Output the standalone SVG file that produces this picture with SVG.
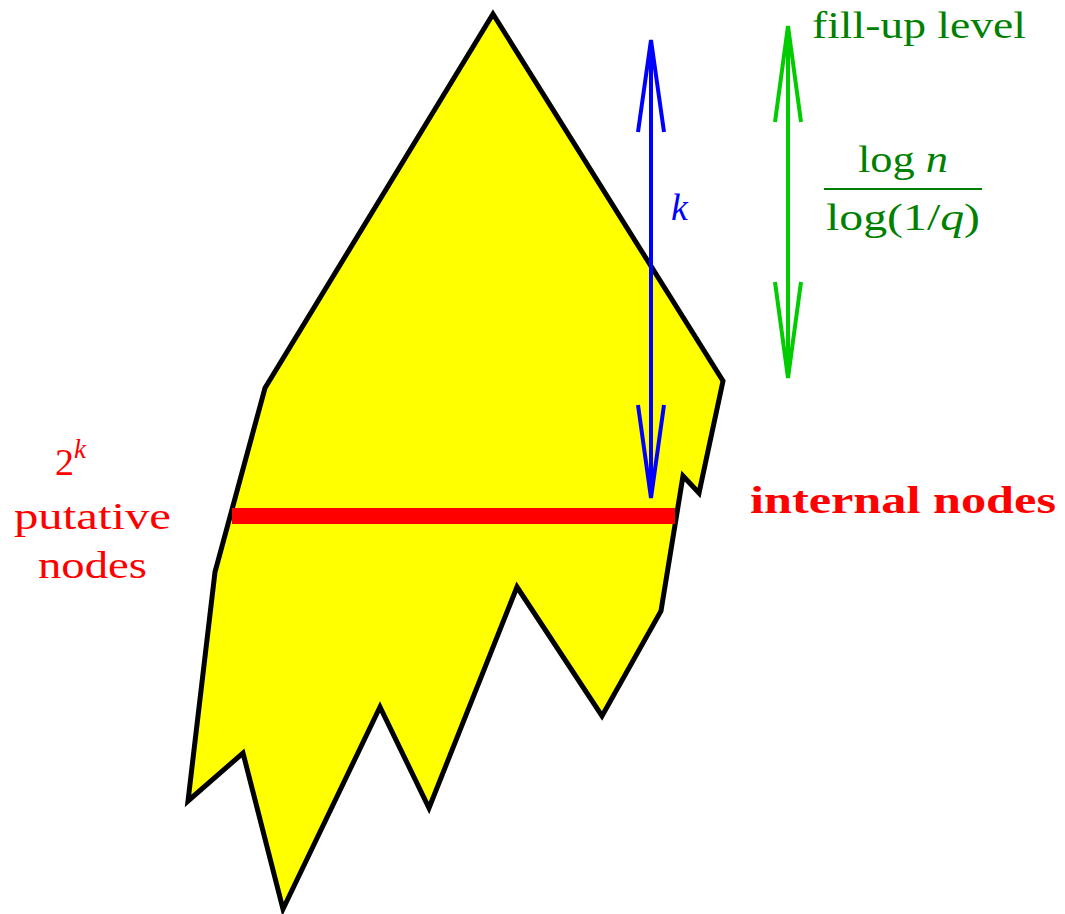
<svg xmlns="http://www.w3.org/2000/svg" width="1065" height="914" viewBox="0 0 1065 914">
<style>
.t{font-family:"Liberation Serif","DejaVu Serif",serif;font-size:38px}
.red{fill:#ff0000}
.dg{fill:#008000}
</style>
<rect width="1065" height="914" fill="#ffffff"/>
<g id="tree">
<polygon points="493,14 723,381 699,493 683,476 661,611 602,716 517,587 429,808 380,707 283,909 243,753 188,801 215,572 265,388" fill="#ffff00" stroke="#000000" stroke-width="5" stroke-linejoin="miter"/>
</g>
<g id="level">
<line x1="232" y1="516" x2="675" y2="516" stroke="#ff0000" stroke-width="16"/>
</g>
<g id="connectors" fill="none" stroke-width="4">
<g id="k-arrow" stroke="#0000ff">
<line x1="651" y1="42" x2="651" y2="496"/>
<polyline points="638,132 651,40 664,132"/>
<polyline points="638,405 651,498 664,405"/>
</g>
<g id="fill-arrow" stroke="#00cc00">
<line x1="788" y1="28" x2="788" y2="376"/>
<polyline points="775,122 788,26 801,122"/>
<polyline points="775,282 788,378 801,282"/>
</g>
</g>
<g id="labels">
<text class="t dg" x="812" y="38" textLength="214" lengthAdjust="spacingAndGlyphs">fill-up level</text>
<text class="t dg" x="858" y="172" textLength="90" lengthAdjust="spacingAndGlyphs">log <tspan font-style="italic">n</tspan></text>
<line x1="824" y1="189" x2="982" y2="189" stroke="#008000" stroke-width="2"/>
<text class="t dg" x="826" y="230" textLength="154" lengthAdjust="spacingAndGlyphs">log(1/<tspan font-style="italic">q</tspan>)</text>
<text class="t" x="671" y="220" fill="#0000ff" font-style="italic">k</text>
<text class="t red" x="55" y="475" font-size="40">2<tspan font-size="27" font-style="italic" dy="-17">k</tspan></text>
<text class="t red" x="14" y="529" textLength="157" lengthAdjust="spacingAndGlyphs">putative</text>
<text class="t red" x="38" y="578" textLength="109" lengthAdjust="spacingAndGlyphs">nodes</text>
<text class="t red" x="750" y="513" font-weight="bold" textLength="306" lengthAdjust="spacingAndGlyphs">internal nodes</text>
</g>
</svg>
